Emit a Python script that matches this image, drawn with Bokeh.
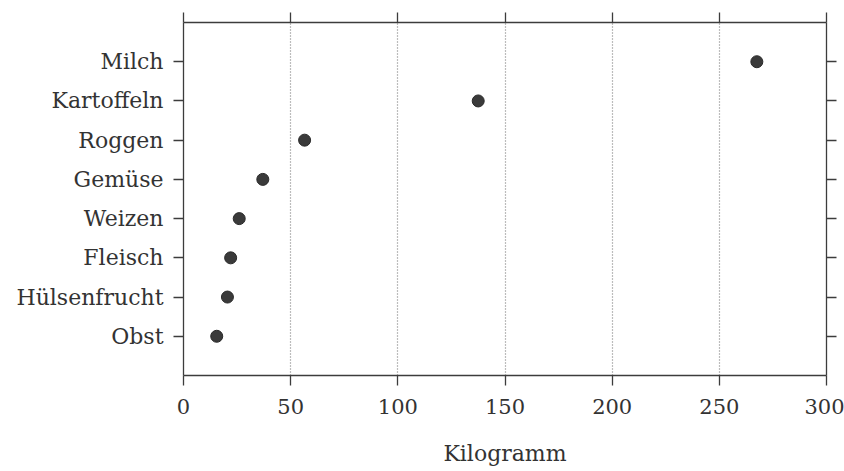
from bokeh.plotting import figure
from bokeh.models import LinearAxis, FixedTicker, Range1d, ColumnDataSource, Grid
from bokeh.embed import file_html
from bokeh.resources import INLINE

categories = ["Milch", "Kartoffeln", "Roggen", "Gemüse", "Weizen", "Fleisch", "Hülsenfrucht", "Obst"]
values = [267.5, 137.5, 56.5, 37.0, 26.0, 22.0, 20.5, 15.5]
x_ticks = [0, 50, 100, 150, 200, 250, 300]
x_label = "Kilogramm"

n = len(categories)
ypos = [n - i for i in range(n)]
src = ColumnDataSource(dict(x=values, y=ypos, name=categories))

FONT = "DejaVu Serif"
AX = "#3c3c3c"

p = figure(frame_width=643, frame_height=353, output_backend="svg", toolbar_location=None,
           x_range=Range1d(0, 300), y_range=Range1d(0, n + 1),
           x_axis_location=None, y_axis_location=None,
           min_border_left=183, min_border_right=18, min_border_top=22, min_border_bottom=96)
p.outline_line_color = None
p.background_fill_color = "white"
p.border_fill_color = "white"

def style(ax):
    ax.axis_line_color = AX
    ax.axis_line_width = 1.3
    ax.major_tick_line_color = AX
    ax.major_tick_line_width = 1.3
    ax.major_tick_out = 10
    ax.major_tick_in = 0
    ax.minor_tick_line_color = None
    ax.major_label_text_font = FONT
    ax.major_label_text_color = "#333333"

xt = FixedTicker(ticks=x_ticks)
yt = FixedTicker(ticks=ypos)
overrides = {y: c for y, c in zip(ypos, categories)}

bottom = LinearAxis(ticker=xt, axis_label=x_label)
style(bottom)
bottom.major_label_text_font_size = "21px"
bottom.major_label_standoff = 13
bottom.axis_label_text_font = FONT
bottom.axis_label_text_font_size = "22px"
bottom.axis_label_text_font_style = "normal"
bottom.axis_label_text_color = "#333333"
bottom.axis_label_standoff = 24
p.add_layout(bottom, "below")

top = LinearAxis(ticker=xt, major_label_overrides={t: "" for t in x_ticks})
style(top)
top.major_label_standoff = 0
p.add_layout(top, "above")

left = LinearAxis(ticker=yt, major_label_overrides=overrides)
style(left)
left.major_label_text_font_size = "22px"
left.major_label_standoff = 10
p.add_layout(left, "left")

right = LinearAxis(ticker=yt, major_label_overrides={y: "" for y in ypos})
style(right)
right.major_label_standoff = 0
p.add_layout(right, "right")

p.xgrid.visible = False
p.ygrid.visible = False
g = Grid(dimension=0, ticker=FixedTicker(ticks=x_ticks[1:-1]))
g.grid_line_color = "#7a7a7a"
g.grid_line_dash = "1 2"
g.grid_line_width = 1.2
p.add_layout(g)

p.scatter("x", "y", source=src, size=12, fill_color="#3a3a3a", line_color="#2a2a2a")

open("out.html", "w").write(file_html(p, INLINE))
